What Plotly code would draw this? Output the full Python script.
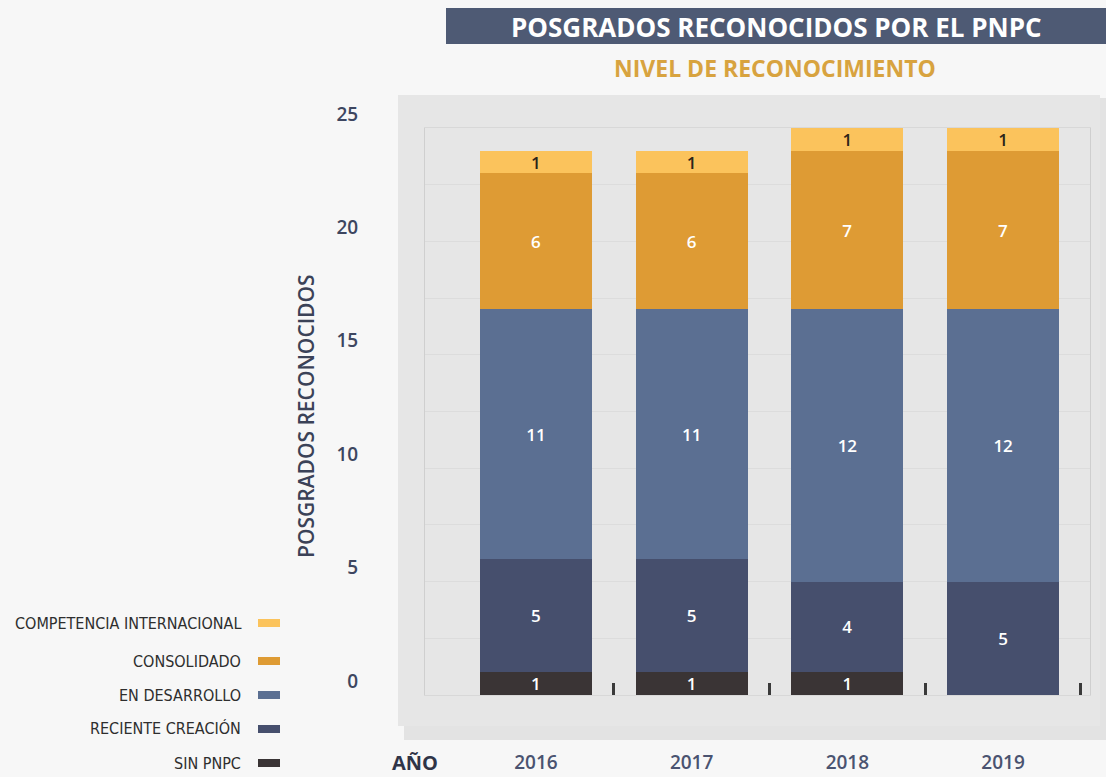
import plotly.graph_objects as go

# ---------------- data ----------------
years = ["2016", "2017", "2018", "2019"]
sin_pnpc = [1, 1, 1, 0]
reciente_creacion = [5, 5, 4, 5]
en_desarrollo = [11, 11, 12, 12]
consolidado = [6, 6, 7, 7]
competencia_internacional = [1, 1, 1, 1]

series_names = ["SIN PNPC", "RECIENTE CREACIÓN", "EN DESARROLLO",
                "CONSOLIDADO", "COMPETENCIA INTERNACIONAL"]
series_values = [sin_pnpc, reciente_creacion, en_desarrollo,
                 consolidado, competencia_internacional]
series_colors = ["#3a3435", "#464f6d", "#5b6f92", "#de9b34", "#fbc35c"]
text_colors = ["#ffffff", "#ffffff", "#ffffff", "#ffffff", "#2b2419"]

y_ticks = [0, 5, 10, 15, 20, 25]

# ---------------- layout geometry ----------------
W, H = 1106, 777
L, R, T, B = 425, 16, 128, 82
PW, PH = W - L - R, H - T - B


def px(x):
    """window x pixel -> paper x"""
    return (x - L) / PW


def py(y):
    """window y pixel -> paper y"""
    return (H - B - y) / PH


FONT = "Open Sans, Roboto, DejaVu Sans"
NARROW = "Liberation Sans Narrow, DejaVu Sans Condensed, Roboto, sans-serif"

fig = go.Figure()
xpos = list(range(len(years)))
for name, vals, col, tcol in zip(series_names, series_values, series_colors, text_colors):
    fig.add_trace(go.Bar(
        x=xpos, y=vals, name=name,
        marker=dict(color=col, line=dict(width=0)),
        text=[str(v) if v else "" for v in vals],
        textposition="inside", insidetextanchor="middle", textangle=0,
        textfont=dict(family=FONT, size=17, color=tcol, weight=600),
        constraintext="none",
        showlegend=False,
        hoverinfo="skip",
    ))

shapes = []
# drop shadow + panel behind plot area
shapes.append(dict(type="rect", xref="paper", yref="paper",
                   x0=px(404), x1=px(1110), y0=py(740), y1=py(98),
                   fillcolor="#c9c9c9", opacity=0.45, line=dict(width=0), layer="below"))
shapes.append(dict(type="rect", xref="paper", yref="paper",
                   x0=px(398), x1=px(1100), y0=py(726), y1=py(95),
                   fillcolor="#e6e6e6", line=dict(width=0), layer="below"))
# title banner
shapes.append(dict(type="rect", xref="paper", yref="paper",
                   x0=px(446), x1=px(1110), y0=py(44), y1=py(8),
                   fillcolor="#4e5a74", line=dict(width=0), layer="below"))

annotations = [
    dict(text="<b>POSGRADOS RECONOCIDOS POR EL PNPC</b>", xref="paper", yref="paper",
         x=px(776), y=py(27), showarrow=False, xanchor="center", yanchor="middle",
         font=dict(family=FONT, size=26, color="#ffffff")),
    dict(text="<b>NIVEL DE RECONOCIMIENTO</b>", xref="paper", yref="paper",
         x=px(775), y=py(68), showarrow=False, xanchor="center", yanchor="middle",
         font=dict(family=FONT, size=23, color="#d8a33f")),
    dict(text="POSGRADOS RECONOCIDOS", xref="paper", yref="paper",
         x=px(306), y=py(416), showarrow=False, textangle=-90,
         xanchor="center", yanchor="middle",
         font=dict(family=FONT, size=21, color="#3b4257", weight=600)),
    dict(text="AÑO", xref="paper", yref="paper",
         x=px(415), y=py(762), showarrow=False, xanchor="center", yanchor="middle",
         font=dict(family=FONT, size=20, color="#2f3447", weight=700)),
]

# manual legend (text left of swatch, top to bottom)
legend_y = [623, 661, 695, 729, 763]
for i, (name, col) in enumerate(zip(series_names[::-1], series_colors[::-1])):
    yc = legend_y[i]
    annotations.append(dict(text=name, xref="paper", yref="paper",
                            x=px(243), y=py(yc), showarrow=False,
                            xanchor="right", yanchor="middle",
                            font=dict(family=NARROW, size=16, color="#2e2e2e")))
    shapes.append(dict(type="rect", xref="paper", yref="paper",
                       x0=px(258), x1=px(280), y0=py(yc + 4), y1=py(yc - 4),
                       fillcolor=col, line=dict(width=0), layer="above"))

fig.update_layout(
    width=W, height=H,
    margin=dict(l=L, r=R, t=T, b=B, pad=0, autoexpand=False),
    paper_bgcolor="#f7f7f7",
    plot_bgcolor="#f4f4f4",
    barmode="stack",
    bargap=0.28,
    shapes=shapes,
    annotations=annotations,
    xaxis=dict(
        range=[-0.712, 3.558],
        tickvals=xpos, ticktext=years,
        ticks="", showgrid=False, zeroline=False,
        showline=True, linecolor="#d8d8d8", linewidth=1, mirror=True,
        tickfont=dict(family=FONT, size=19, color="#4a5370", weight=600),
        ticklabelstandoff=50,
        minor=dict(tickvals=[0.5, 1.5, 2.5, 3.5], ticks="inside",
                   ticklen=12, tickwidth=3, tickcolor="#3a3a3a", showgrid=False),
        automargin=False,
        fixedrange=True,
    ),
    yaxis=dict(
        range=[0, 25],
        tickvals=y_ticks, ticktext=[str(v) for v in y_ticks],
        ticks="", showgrid=True, gridcolor="#dcdcdc", gridwidth=1,
        zeroline=False,
        showline=True, linecolor="#cfcfcf", linewidth=1, mirror=True,
        minor=dict(dtick=2.5, showgrid=True, gridcolor="#dcdcdc", gridwidth=1),
        tickfont=dict(family=FONT, size=19, color="#3d4660", weight=600),
        ticklabelstandoff=62,
        ticklabelshift=-14,
        automargin=False,
        fixedrange=True,
    ),
)

fig.write_html(
    "out.html",
    config={"displayModeBar": False},
    post_script="document.body.style.margin='0';document.body.style.padding='0';"
                "document.body.style.overflow='hidden';"
                "document.body.style.background='#f7f7f7';",
)
